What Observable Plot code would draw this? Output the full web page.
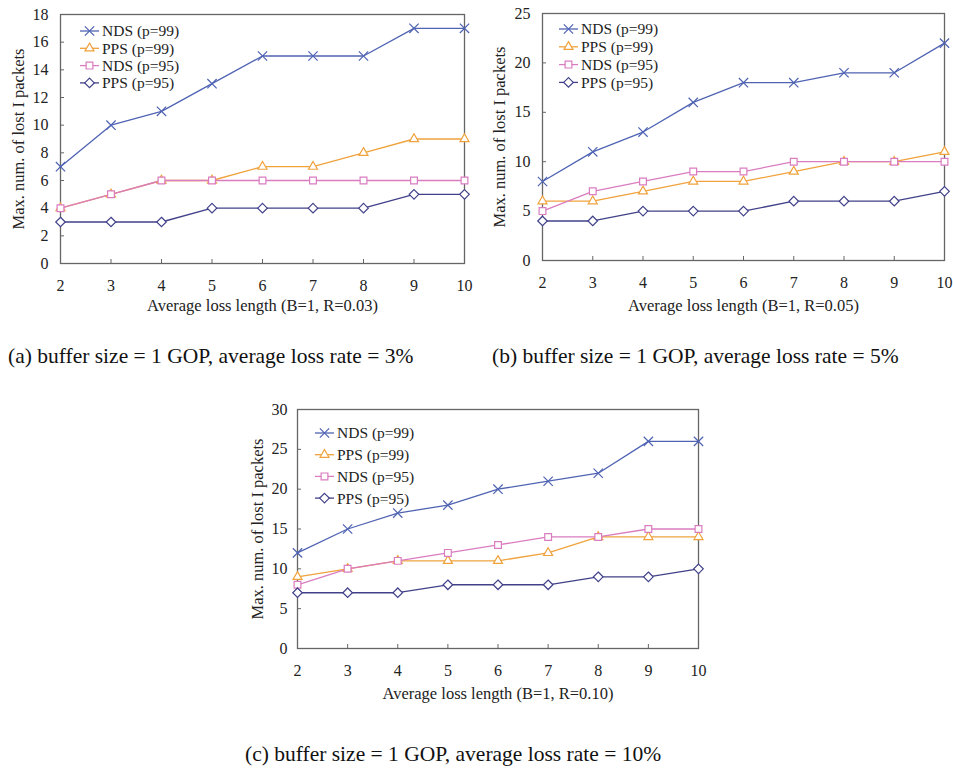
<!DOCTYPE html>
<html><head><meta charset="utf-8">
<script src="https://cdn.jsdelivr.net/npm/d3@7"></script>
<script src="https://cdn.jsdelivr.net/npm/@observablehq/plot@0.6"></script>
<style>
body{margin:0;background:#fff;}
#root{position:relative;width:953px;height:769px;overflow:hidden;font-family:"Liberation Serif",serif;background:#fff;}
.panel{position:absolute;}
.cap{position:absolute;font-size:21.5px;line-height:21.5px;color:#111;white-space:nowrap;}
</style></head><body><div id="root"></div>
<script>
// ---- data ----
const xs = [2, 3, 4, 5, 6, 7, 8, 9, 10];
const seriesNames = ["NDS (p=99)", "PPS (p=99)", "NDS (p=95)", "PPS (p=95)"];
const colors = ["#4f63b3", "#f0a23c", "#da7cc0", "#41418a"];
const symbols = ["times", "triangle2", "square2", "diamond2"];

// (a) R = 0.03
const a_nds99 = [7, 10, 11, 13, 15, 15, 15, 17, 17];
const a_pps99 = [4, 5, 6, 6, 7, 7, 8, 9, 9];
const a_nds95 = [4, 5, 6, 6, 6, 6, 6, 6, 6];
const a_pps95 = [3, 3, 3, 4, 4, 4, 4, 5, 5];
// (b) R = 0.05
const b_nds99 = [8, 11, 13, 16, 18, 18, 19, 19, 22];
const b_pps99 = [6, 6, 7, 8, 8, 9, 10, 10, 11];
const b_nds95 = [5, 7, 8, 9, 9, 10, 10, 10, 10];
const b_pps95 = [4, 4, 5, 5, 5, 6, 6, 6, 7];
// (c) R = 0.10
const c_nds99 = [12, 15, 17, 18, 20, 21, 22, 26, 26];
const c_pps99 = [9, 10, 11, 11, 11, 12, 14, 14, 14];
const c_nds95 = [8, 10, 11, 12, 13, 14, 14, 15, 15];
const c_pps95 = [7, 7, 7, 8, 8, 8, 9, 9, 10];

const yTicksA = [0, 2, 4, 6, 8, 10, 12, 14, 16, 18];
const yTicksB = [0, 5, 10, 15, 20, 25];
const yTicksC = [0, 5, 10, 15, 20, 25, 30];

const yLabel = "Max. num. of lost I packets";
const xLabelA = "Average loss length (B=1, R=0.03)";
const xLabelB = "Average loss length (B=1, R=0.05)";
const xLabelC = "Average loss length (B=1, R=0.10)";
const capA = "(a) buffer size = 1 GOP, average loss rate = 3%";
const capB = "(b) buffer size = 1 GOP, average loss rate = 5%";
const capC = "(c) buffer size = 1 GOP, average loss rate = 10%";

const root = document.getElementById("root");
const symMap = {times: d3.symbolTimes, triangle2: d3.symbolTriangle2, square2: d3.symbolSquare2, diamond2: d3.symbolDiamond2};
const R = 4.3;
const FONT = '"Liberation Serif", serif';

function makePanel(c) {
  const rows = [];
  c.series.forEach((vals, k) => vals.forEach((v, i) => rows.push({x: xs[i], y: v, s: seriesNames[k]})));
  const svg = Plot.plot({
    width: c.w, height: c.h,
    marginLeft: c.ml, marginRight: c.mr, marginTop: c.mt, marginBottom: c.mb,
    style: {fontFamily: FONT, fontSize: "16px", color: "#222", background: "transparent", overflow: "visible"},
    x: {domain: [2, 10]},
    y: {domain: [0, c.yticks[c.yticks.length - 1]]},
    color: {domain: seriesNames, range: colors},
    symbol: {domain: seriesNames, range: symbols},
    marks: [
      Plot.axisX({ticks: xs, tickFormat: d => String(d), tickSize: 0, tickPadding: c.xpad, label: null, fontSize: 16}),
      Plot.axisX({ticks: xs, tickSize: -4, tickFormat: () => "", label: null, stroke: "#666"}),
      Plot.axisY({ticks: c.yticks, tickSize: 0, tickPadding: c.ypad, label: null, fontSize: 16}),
      Plot.axisY({ticks: c.yticks, tickSize: -4, tickFormat: () => "", label: null, stroke: "#666"}),
      Plot.text([c.xlabel], {text: d => d, frameAnchor: "bottom", textAnchor: "middle", lineAnchor: "middle", dy: c.xdy, fontSize: 16.5, fill: "#222"}),
      Plot.text([c.ylabel], {text: d => d, frameAnchor: "left", textAnchor: "middle", lineAnchor: "middle", dx: c.ydx, rotate: -90, fontSize: 16.5, fill: "#222"}),
      Plot.frame({stroke: "#666", strokeWidth: 1.3}),
      Plot.line(rows, {x: "x", y: "y", z: "s", stroke: "s", strokeWidth: 1.3}),
      Plot.dot(rows, {x: "x", y: "y", symbol: "s", stroke: "s", fill: "white", r: R, strokeWidth: 1.2})
    ]
  });
  svg.classList.add("panel");
  svg.style.left = c.left + "px";
  svg.style.top = c.top + "px";
  // legend
  const g = d3.select(svg).append("g").attr("font-family", FONT).attr("font-size", 15.5).attr("text-anchor", "start");
  seriesNames.forEach((name, k) => {
    const y = c.mt + c.ly + k * c.lgap;
    const x0 = c.ml + c.lx;
    g.append("line").attr("x1", x0).attr("x2", x0 + 19).attr("y1", y).attr("y2", y)
      .attr("stroke", colors[k]).attr("stroke-width", 1.3);
    g.append("path").attr("transform", `translate(${x0 + 9.5},${y})`)
      .attr("d", d3.symbol(symMap[symbols[k]], R * R * Math.PI)())
      .attr("fill", "white").attr("stroke", colors[k]).attr("stroke-width", 1.2);
    g.append("text").attr("x", x0 + 22).attr("y", y).attr("dy", "0.35em").attr("fill", "#222").text(name);
  });
  root.appendChild(svg);
}

makePanel({left: 0, top: 0, w: 480, h: 320, ml: 60, mr: 16, mt: 14, mb: 57,
  series: [a_nds99, a_pps99, a_nds95, a_pps95], yticks: yTicksA,
  xlabel: xLabelA, ylabel: yLabel, xpad: 16, ypad: 12, xdy: 42, ydx: -42, lx: 20, ly: 17, lgap: 17.3});
makePanel({left: 480, top: 0, w: 473, h: 320, ml: 62, mr: 9, mt: 13, mb: 60,
  series: [b_nds99, b_pps99, b_nds95, b_pps95], yticks: yTicksB,
  xlabel: xLabelB, ylabel: yLabel, xpad: 16, ypad: 12, xdy: 45, ydx: -43, lx: 17, ly: 16, lgap: 17.8});
makePanel({left: 240, top: 390, w: 480, h: 330, ml: 57, mr: 22, mt: 19, mb: 72,
  series: [c_nds99, c_pps99, c_nds95, c_pps95], yticks: yTicksC,
  xlabel: xLabelC, ylabel: yLabel, xpad: 16, ypad: 10, xdy: 45, ydx: -40, lx: 18, ly: 24, lgap: 21.7});

function caption(text, left, top) {
  const d = document.createElement("div");
  d.className = "cap";
  d.style.left = left + "px";
  d.style.top = top + "px";
  d.textContent = text;
  root.appendChild(d);
}
caption(capA, 8, 346);
caption(capB, 492, 346);
caption(capC, 245, 744);
</script>
</body></html>
